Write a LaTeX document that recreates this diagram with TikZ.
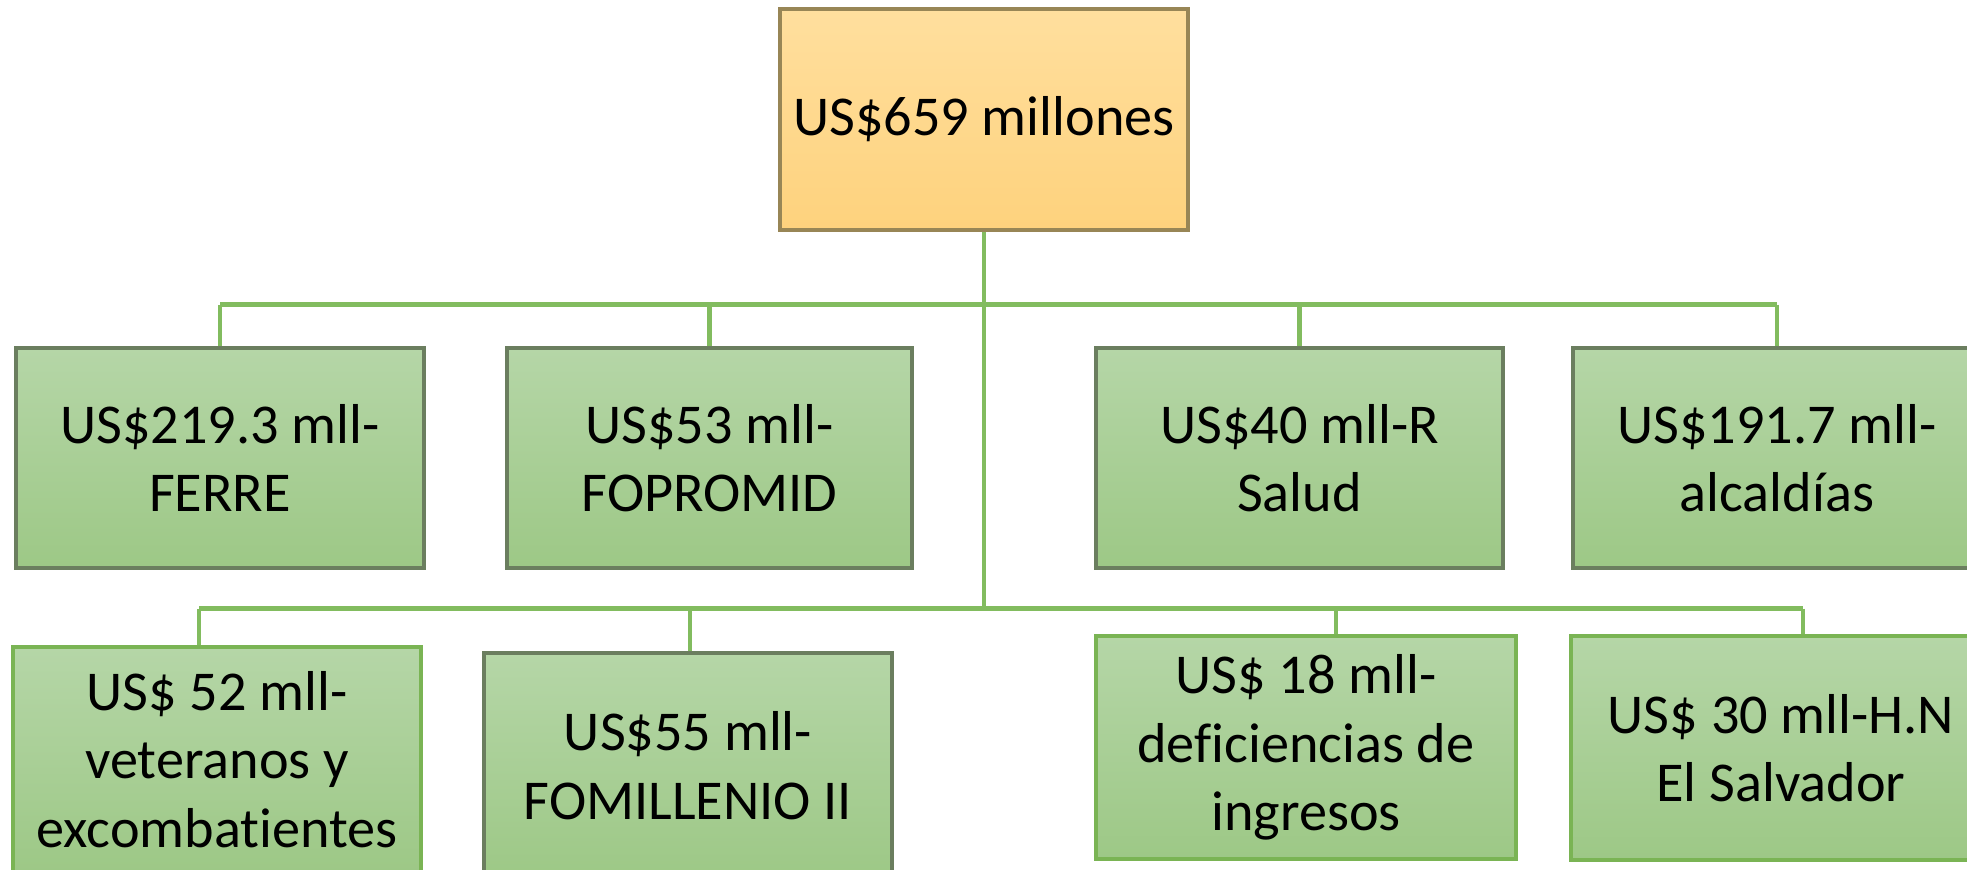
\documentclass[tikz,border=0pt]{standalone}
\usepackage{fontspec}
\setmainfont{Carlito}[Ligatures=NoCommon]
\usepackage{xcolor}
\definecolor{orangetop}{RGB}{255,223,158}
\definecolor{orangebot}{RGB}{254,210,125}
\definecolor{orangeline}{RGB}{152,134,86}
\definecolor{greentop}{RGB}{181,214,167}
\definecolor{greenbot}{RGB}{157,200,134}
\definecolor{darkline}{RGB}{107,126,95}
\definecolor{greenline}{RGB}{122,180,84}
\definecolor{connline}{RGB}{130,188,95}
\tikzset{
	box/.style={rectangle, draw=darkline, line width=0.9pt, top color=greentop, bottom color=greenbot,
		minimum width=4.08cm, minimum height=2.2cm, inner sep=0pt, align=center,
		font=\fontsize{16}{19.5}\selectfont},
	greenbox/.style={box, draw=greenline},
	rootbox/.style={box, draw=orangeline, top color=orangetop, bottom color=orangebot},
	conn/.style={draw=connline, line width=1.2pt}
}

\begin{document}
\begin{tikzpicture}
		\useasboundingbox (0,0) rectangle (19.67,-8.69);
		\node[rootbox, minimum height=2.21cm] (root) at (9.84,-1.195) {US\$659 millones};
		\node[box] (ferre) at (2.20,-4.58) {US\$219.3 mll-\\FERRE};
		\node[box, minimum width=4.05cm] (fopromid) at (7.095,-4.58) {US\$53 mll-\\FOPROMID};
		\node[box, minimum width=4.07cm] (salud) at (12.995,-4.58) {US\$40 mll-R\\Salud};
		\node[box] (alcaldias) at (17.77,-4.58) {US\$191.7 mll-\\alcaldías};
		\node[greenbox, minimum height=2.25cm] (veteranos) at (2.17,-7.595) {US\$ 52 mll-\\veteranos y\\excombatientes};
		\node[box, minimum height=2.25cm] (fomillenio) at (6.88,-7.655) {US\$55 mll-\\FOMILLENIO II};
		\node[greenbox, minimum width=4.2cm, minimum height=2.23cm] (deficiencias) at (13.06,-7.475) {US\$ 18 mll-\\deficiencias de\\ingresos};
		\node[greenbox, minimum width=4.2cm, minimum height=2.24cm] (hn) at (17.81,-7.48) {US\$ 30 mll-H.N\\El Salvador};
		\path (root.south) ++(0,-0.73) coordinate (bus1) ++(0,-3.04) coordinate (bus2);
		\draw[conn] (root.south) -- (bus2);
		\draw[conn] (ferre.north |- bus1) -- (alcaldias.north |- bus1);
		\foreach \n in {ferre,fopromid,salud,alcaldias}
			\draw[conn] (\n.north |- bus1) -- (\n.north);
		\foreach \n/\dx in {veteranos/-0.18,fomillenio/0.02,deficiencias/0.30,hn/0.22}
			\coordinate (\n-top) at ([xshift=\dx cm]\n.north);
		\draw[conn] (veteranos-top |- bus2) -- (hn-top |- bus2);
		\foreach \n in {veteranos,fomillenio,deficiencias,hn}
			\draw[conn] (\n-top |- bus2) -- (\n-top);
	\end{tikzpicture}
\end{document}
